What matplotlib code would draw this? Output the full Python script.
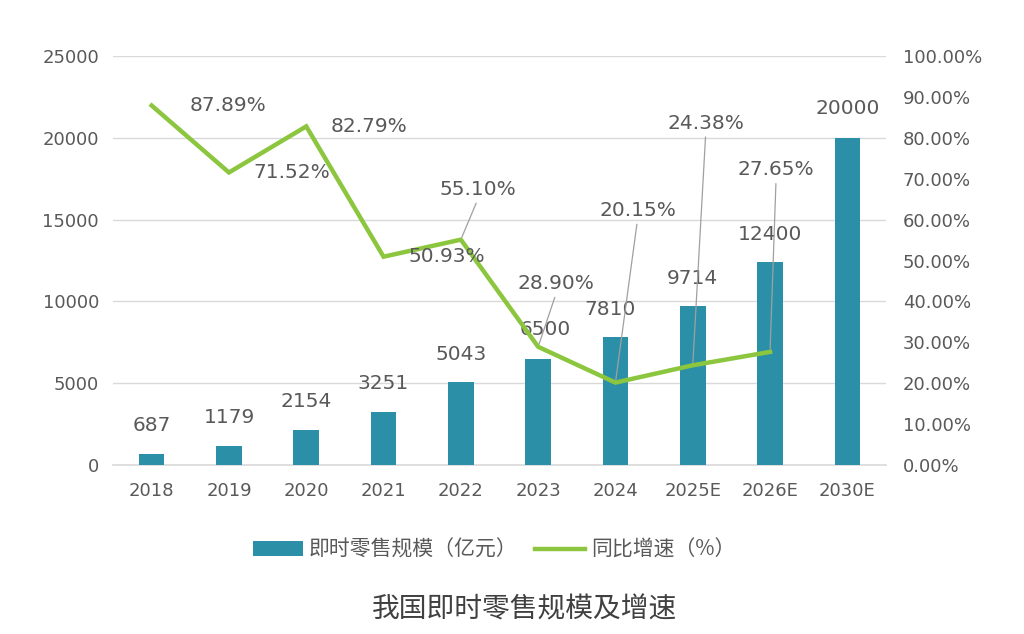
import matplotlib
matplotlib.use("Agg")
import matplotlib.pyplot as plt
from matplotlib.patches import Patch
from matplotlib.lines import Line2D

plt.rcParams['font.family'] = ['DejaVu Sans', 'Noto Sans CJK SC']

categories = ['2018', '2019', '2020', '2021', '2022', '2023', '2024', '2025E', '2026E', '2030E']
scale = [687, 1179, 2154, 3251, 5043, 6500, 7810, 9714, 12400, 20000]
growth = [87.89, 71.52, 82.79, 50.93, 55.10, 28.90, 20.15, 24.38, 27.65]
left_ticks = [0, 5000, 10000, 15000, 20000, 25000]
right_ticks = [0, 10, 20, 30, 40, 50, 60, 70, 80, 90, 100]

# label placement offsets (pixels) for growth labels and whether a leader line is drawn
g_off = [(76, 0), (63, 0), (63, 0), (63, 0), (17, 50), (18, 63), (22, 172), (13, 242), (6, 182)]
g_leader = [False, False, False, False, True, True, True, True, True]
b_off = [(0, 28), (0, 28), (0, 28), (0, 28), (0, 28), (7, 29), (-5, 28), (0, 28), (0, 28), (0, 29)]

BAR = '#2B8FA8'
LINE = '#8CC63F'
TXT = '#595959'
GRID = '#D9D9D9'

fig = plt.figure(figsize=(10.24, 6.34), dpi=100)
ax = fig.add_axes([113/1024, 1-465/634, 773/1024, 409/634])
ax2 = ax.twinx()

x = list(range(len(categories)))
ax.bar(x, scale, width=0.33, color=BAR, zorder=2)
ax.set_xlim(-0.5, len(categories)-0.5)
ax.set_ylim(0, 25000)
ax.set_yticks(left_ticks)
ax.set_yticklabels([str(v) for v in left_ticks])
ax.set_xticks(x)
ax.set_xticklabels(categories)
ax.grid(axis='y', color=GRID, lw=1, zorder=0)
ax.axhline(0, color=GRID, lw=1.2, zorder=1, clip_on=False)
ax.set_axisbelow(True)
for s in ax.spines.values():
    s.set_visible(False)
for s in ax2.spines.values():
    s.set_visible(False)
ax.tick_params(axis='both', length=0, labelsize=13, colors=TXT)
ax.tick_params(axis='y', pad=10)
ax.tick_params(axis='x', pad=12)

ax2.plot(x[:len(growth)], growth, color=LINE, lw=3.2, zorder=3, solid_joinstyle='miter')
ax2.set_ylim(0, 100)
ax2.set_yticks(right_ticks)
ax2.set_yticklabels([f'{v:.2f}%' for v in right_ticks])
ax2.tick_params(axis='y', length=0, labelsize=13, colors=TXT, pad=12)

for i, v in enumerate(scale):
    ax.annotate(str(v), (i, v), xytext=b_off[i], textcoords='offset pixels',
                ha='center', va='center', fontsize=14.5, color=TXT, zorder=5)

for i, v in enumerate(growth):
    kw = {}
    if g_leader[i]:
        kw['arrowprops'] = dict(arrowstyle='-', color='#A0A0A0', lw=0.9,
                                shrinkA=1, shrinkB=2, relpos=(0.5, 0.0))
    ax2.annotate(f'{v:.2f}%', (i, v), xytext=g_off[i], textcoords='offset pixels',
                 ha='center', va='center', fontsize=14.5, color=TXT, zorder=6, **kw)

handles = [Patch(facecolor=BAR, edgecolor='none'), Line2D([0], [0], color=LINE, lw=3.2)]
labels = ['即时零售规模（亿元）', '同比增速（%）']
fig.legend(handles, labels, loc='center', bbox_to_anchor=(494/1024, 1-550/634), ncol=2,
           frameon=False, prop={'family': ['Noto Sans CJK SC', 'DejaVu Sans'], 'size': 15},
           labelcolor=TXT, handlelength=2.4, handleheight=0.75, handletextpad=0.3,
           columnspacing=0.8)

fig.text(525/1024, 1-609/634, '我国即时零售规模及增速', ha='center', va='center',
         fontsize=20, color='#404040', family=['Noto Sans CJK SC', 'DejaVu Sans'])

fig.savefig('out.png', dpi=100, facecolor='white')
